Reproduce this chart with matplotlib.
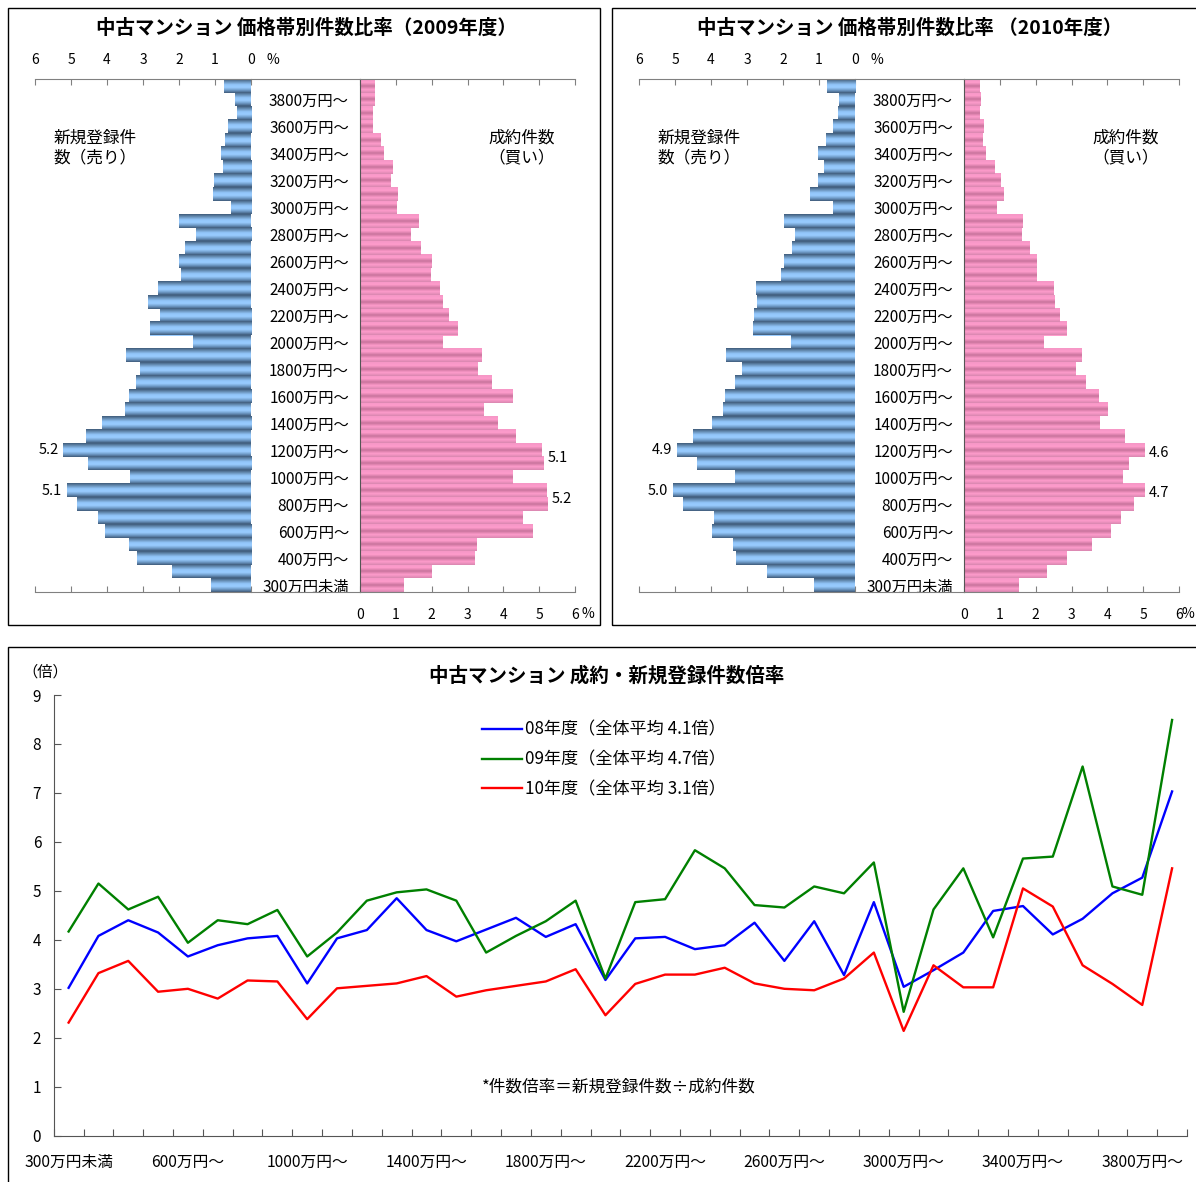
import numpy as np
import matplotlib
matplotlib.use("Agg")
import matplotlib.pyplot as plt
from matplotlib.colors import LinearSegmentedColormap
from matplotlib.patches import Rectangle
from matplotlib.lines import Line2D

plt.rcParams['font.family'] = ['Noto Sans CJK JP', 'DejaVu Sans']

W, H = 1196, 1182

# price bands, bottom (300万円未満) to top
categories = ["300万円未満"] + ["%d万円～" % v for v in range(300, 4000, 100)]

# share of listings / contracts per price band (%)
sell_2009 = [1.11, 2.19, 3.17, 3.39, 4.06, 4.25, 4.83, 5.11, 3.36, 4.53,
             5.21, 4.58, 4.14, 3.50, 3.39, 3.19, 3.08, 3.47, 1.60, 2.81,
             2.53, 2.86, 2.58, 1.94, 1.99, 1.83, 1.53, 1.99, 0.56, 1.06,
             1.03, 0.78, 0.83, 0.72, 0.64, 0.39, 0.44, 0.75]
buy_2009 = [1.22, 2.00, 3.20, 3.26, 4.82, 4.54, 5.24, 5.21, 4.26, 5.13,
            5.07, 4.34, 3.84, 3.45, 4.26, 3.67, 3.28, 3.40, 2.31, 2.73,
            2.47, 2.31, 2.22, 1.97, 2.00, 1.69, 1.41, 1.64, 1.02, 1.05,
            0.86, 0.91, 0.66, 0.56, 0.35, 0.35, 0.41, 0.41]
sell_2010 = [1.13, 2.44, 3.30, 3.38, 3.96, 3.91, 4.77, 5.05, 3.32, 4.38,
             4.94, 4.49, 3.96, 3.66, 3.60, 3.32, 3.13, 3.57, 1.77, 2.82,
             2.80, 2.71, 2.74, 2.05, 1.96, 1.74, 1.66, 1.96, 0.60, 1.24,
             1.02, 0.85, 1.02, 0.80, 0.60, 0.46, 0.44, 0.79]
buy_2010 = [1.53, 2.31, 2.87, 3.56, 4.09, 4.37, 4.73, 5.04, 4.43, 4.60,
            5.04, 4.48, 3.79, 4.01, 3.76, 3.40, 3.12, 3.28, 2.22, 2.87,
            2.67, 2.53, 2.50, 2.03, 2.03, 1.83, 1.61, 1.64, 0.91, 1.11,
            1.02, 0.86, 0.60, 0.52, 0.55, 0.44, 0.47, 0.44]

# data labels: (category index, text)
sell_2009_labels = [(10, "5.2"), (7, "5.1")]
buy_2009_labels = [(9, "5.1"), (6, "5.2")]
sell_2010_labels = [(10, "4.9"), (7, "5.0")]
buy_2010_labels = [(9, "4.6"), (6, "4.7")]

# listings / contracts ratio per price band
ratio_08 = [3.02, 4.08, 4.40, 4.15, 3.66, 3.89, 4.03, 4.08, 3.11, 4.03,
            4.20, 4.85, 4.20, 3.97, 4.21, 4.45, 4.06, 4.32, 3.18, 4.03,
            4.06, 3.81, 3.89, 4.35, 3.57, 4.38, 3.28, 4.77, 3.04, 3.38,
            3.74, 4.59, 4.69, 4.11, 4.43, 4.95, 5.27, 7.03]
ratio_09 = [4.17, 5.15, 4.62, 4.88, 3.94, 4.40, 4.32, 4.61, 3.66, 4.15,
            4.80, 4.97, 5.03, 4.80, 3.74, 4.08, 4.38, 4.80, 3.21, 4.77,
            4.83, 5.83, 5.46, 4.71, 4.66, 5.09, 4.95, 5.58, 2.53, 4.62,
            5.46, 4.05, 5.66, 5.70, 7.54, 5.09, 4.92, 8.49]
ratio_10 = [2.31, 3.32, 3.57, 2.94, 3.00, 2.80, 3.17, 3.15, 2.38, 3.01,
            3.06, 3.11, 3.26, 2.84, 2.97, 3.06, 3.15, 3.40, 2.46, 3.10,
            3.29, 3.29, 3.43, 3.11, 3.00, 2.97, 3.21, 3.74, 2.14, 3.48,
            3.03, 3.03, 5.05, 4.68, 3.48, 3.10, 2.67, 5.46]
ratio_names = ["08年度（全体平均 4.1倍）", "09年度（全体平均 4.7倍）", "10年度（全体平均 3.1倍）"]

GRAY = "#808080"
blue_cmap = LinearSegmentedColormap.from_list("b", ["#3f5b7a", "#6f9bc8", "#99ccff", "#92c6fa", "#6a92ba", "#3f5b7a"])
pink_cmap = LinearSegmentedColormap.from_list("p", ["#d987b0", "#ff9ccc", "#c8739c", "#ff9ccc", "#f597c6"])

fig = plt.figure(figsize=(W / 100, H / 100), dpi=100)


def fy(y):
    return 1 - y / H


def add_ax(x0, x1, y0, y1):
    return fig.add_axes([x0 / W, 1 - y1 / H, (x1 - x0) / W, (y1 - y0) / H])


def shade(ax, bars, cmap):
    grad = np.linspace(0, 1, 64).reshape(-1, 1)
    for b in bars:
        ax.imshow(grad, cmap=cmap, aspect="auto", origin="lower", zorder=2,
                  extent=(b.get_x(), b.get_x() + b.get_width(), b.get_y(), b.get_y() + b.get_height()))


# panel frames
for x0, y0, x1, y1 in [(8, 8, 600, 625), (612, 8, 1205, 625), (8, 647, 1205, 1195)]:
    fig.add_artist(Rectangle((x0 / W, fy(y1)), (x1 - x0) / W, (y1 - y0) / H,
                             transform=fig.transFigure, fill=False, ec="black", lw=1.0))

TOP, BOT = 79.3, 591.7
y = np.arange(len(categories))


def pyramid(dx, title, sell, buy, sell_labels, buy_labels, buy_dy):
    axL = add_ax(35 + dx, 251 + dx, TOP, BOT)
    axR = add_ax(360 + dx, 575 + dx, TOP, BOT)

    bars = axL.barh(y, sell, height=1.0, color="#99ccff", zorder=1)
    shade(axL, bars, blue_cmap)
    bars = axR.barh(y, buy, height=1.0, color="#ff9ccc", zorder=1)
    shade(axR, bars, pink_cmap)

    for ax in (axL, axR):
        ax.set_ylim(-0.5, len(categories) - 0.5)
        ax.set_xticks(range(7))
        ax.xaxis.set_ticks_position("both")
        ax.tick_params(axis="x", direction="in", length=4, color=GRAY, labelsize=10)
        for s in ("top", "bottom"):
            ax.spines[s].set_color(GRAY)
        ax.spines["right"].set_visible(False)
    axL.set_xlim(6, 0)
    axR.set_xlim(0, 6)
    axL.spines["left"].set_visible(False)
    axL.set_yticks([])
    axL.tick_params(axis="x", labeltop=True, labelbottom=False, pad=9)
    axR.tick_params(axis="x", labeltop=False, labelbottom=True, pad=12)
    axR.spines["left"].set_color("#555555")
    axR.set_yticks(y[::2])
    axR.set_yticklabels(categories[::2])
    axR.tick_params(axis="y", length=0, pad=8, labelsize=11)

    # join the axis lines across the label gap
    for yy in (TOP, BOT):
        fig.add_artist(Line2D([(251 + dx) / W, (360 + dx) / W], [fy(yy), fy(yy)],
                              transform=fig.transFigure, color=GRAY, lw=0.8))

    for i, t in sell_labels:
        axL.text(sell[i] + 0.13, i, t, ha="right", va="center", fontsize=10.5)
    for i, t in buy_labels:
        axR.text(max(buy[i], buy[i + 1]) + 0.12, i + buy_dy, t, ha="left", va="center", fontsize=10.5)

    fig.text((273 + dx) / W, fy(60), "%", ha="center", va="center", fontsize=10)
    fig.text(min(588 + dx, 1188) / W, fy(614), "%", ha="center", va="center", fontsize=10)
    fig.text((306 + dx) / W, fy(28), title, ha="center", va="center", fontsize=14, fontweight="bold")
    fig.text((95 + dx) / W, fy(148), "新規登録件\n数（売り）", ha="center", va="center",
             fontsize=12, linespacing=1.25)
    fig.text((522 + dx) / W, fy(148), "成約件数\n（買い）", ha="center", va="center",
             fontsize=12, linespacing=1.25)


pyramid(0, "中古マンション 価格帯別件数比率（2009年度）", sell_2009, buy_2009,
        sell_2009_labels, buy_2009_labels, 0.4)
pyramid(604, "中古マンション 価格帯別件数比率 （2010年度）", sell_2010, buy_2010,
        sell_2010_labels, buy_2010_labels, 0.8)

# ratio line chart
ax = add_ax(53.7, 1187, 695, 1135.7)
ax.plot(y, ratio_08, color="#0000ff", lw=1.7, label=ratio_names[0])
ax.plot(y, ratio_09, color="#008000", lw=1.7, label=ratio_names[1])
ax.plot(y, ratio_10, color="#ff0000", lw=1.7, label=ratio_names[2])
ax.set_xlim(-0.5, len(categories) - 0.5)
ax.set_ylim(0, 9)
ax.set_yticks(range(10))
ax.tick_params(axis="y", direction="in", length=5, pad=9, labelsize=11, color="#555555")
ax.set_xticks(np.arange(-0.5, len(categories), 1.0))
ax.set_xticklabels([])
ax.set_xticks(y[::4], minor=True)
ax.set_xticklabels(categories[::4], minor=True)
ax.tick_params(axis="x", which="major", direction="in", length=5, color="#555555")
ax.tick_params(axis="x", which="minor", length=0, pad=13, labelsize=11.3)
for s in ("top", "right"):
    ax.spines[s].set_visible(False)
for s in ("left", "bottom"):
    ax.spines[s].set_color("#555555")
ax.legend(loc="upper left", bbox_to_anchor=(0.378, 0.942), frameon=False, fontsize=12.3,
          handlelength=2.35, handletextpad=0.15, labelspacing=0.7, borderpad=0, borderaxespad=0)

fig.text(607 / W, fy(676), "中古マンション 成約・新規登録件数倍率", ha="center", va="center",
         fontsize=14, fontweight="bold")
fig.text(45 / W, fy(672), "（倍）", ha="center", va="center", fontsize=11)
fig.text(482 / W, fy(1087), "*件数倍率＝新規登録件数÷成約件数", ha="left", va="center", fontsize=12)

fig.savefig("out.png", dpi=100)
